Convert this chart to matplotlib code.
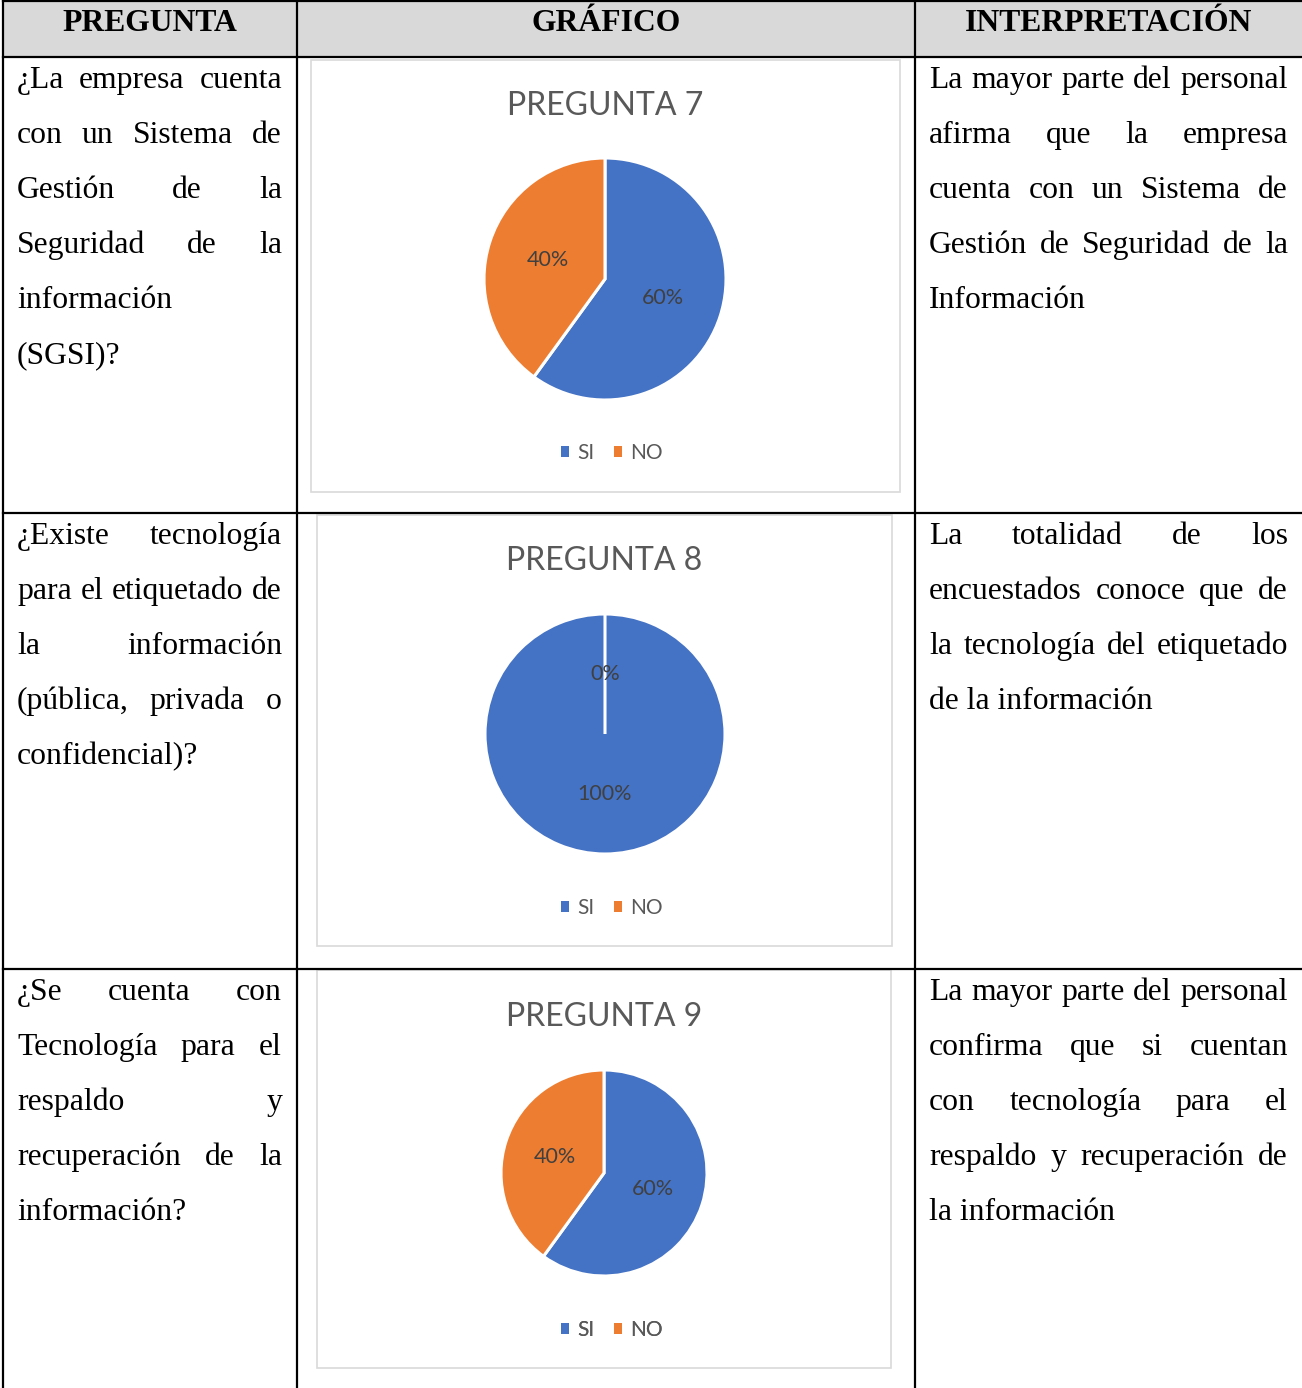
import matplotlib
matplotlib.use("Agg")
import matplotlib.pyplot as plt
from matplotlib.patches import Rectangle, Patch

# ── Data ──────────────────────────────────────────────────────────────────────

HEADERS = ["PREGUNTA", "GRÁFICO", "INTERPRETACIÓN"]
CATEGORIES = ["SI", "NO"]
CHART_TITLES = ["PREGUNTA 7", "PREGUNTA 8", "PREGUNTA 9"]
P7_VALUES = [60, 40]
P8_VALUES = [100, 0]
P9_VALUES = [60, 40]

QUESTION_LINES = [
    ["¿La empresa cuenta", "con un Sistema de", "Gestión de la",
     "Seguridad de la", "información", "(SGSI)?"],
    ["¿Existe tecnología", "para el etiquetado de", "la información",
     "(pública, privada o", "confidencial)?"],
    ["¿Se cuenta con", "Tecnología para el", "respaldo y",
     "recuperación de la", "información?"],
]

INTERP_LINES = [
    ["La mayor parte del personal", "afirma que la empresa",
     "cuenta con un Sistema de", "Gestión de Seguridad de la", "Información"],
    ["La totalidad de los", "encuestados conoce que de",
     "la tecnología del etiquetado", "de la información"],
    ["La mayor parte del personal", "confirma que si cuentan",
     "con tecnología para el", "respaldo y recuperación de", "la información"],
]

COLORS = ["#4472C4", "#ED7D31"]

# ── Layout (pixels) ───────────────────────────────────────────────────────────

W, H, DPI = 1302, 1388, 100
COL_X = [3, 297, 915, 1302]
ROW_Y = [57, 513, 969]
LINE_STEP = 55
BASE_OFF = 31

CHART_BOX = [(311, 60, 900, 492), (317, 515, 892, 946), (317, 970, 891, 1368)]
PIE_GEOM = [(605, 279, 121), (605, 734, 120), (604, 1173, 103)]
TITLE_Y = [103, 558, 1014]
LEGEND_Y = [453, 908, 1330]

SERIF = dict(family="Liberation Serif", fontsize=22.8, color="black")
SANS = "Lato"

fig = plt.figure(figsize=(W / DPI, H / DPI), dpi=DPI)
ax = fig.add_axes([0, 0, 1, 1])
ax.set_xlim(0, W)
ax.set_ylim(H, 0)
ax.axis("off")
renderer = fig.canvas.get_renderer()

# ── Table grid ────────────────────────────────────────────────────────────────

ax.add_patch(Rectangle((COL_X[0], 0), W - COL_X[0], ROW_Y[0],
                       facecolor="#d9d9d9", edgecolor="none"))
lw = 1.6
ax.plot([COL_X[0], W], [1, 1], color="black", lw=lw)
for y in ROW_Y:
    ax.plot([COL_X[0], W], [y, y], color="black", lw=lw)
for x in COL_X[:3]:
    ax.plot([x, x], [0, H], color="black", lw=lw)

for i, head in enumerate(HEADERS):
    ax.text((COL_X[i] + COL_X[i + 1]) / 2, 31, head, ha="center",
            va="baseline", fontweight="bold", **SERIF)


def draw_justified(lines, x0, x1, y0):
    for i, line in enumerate(lines):
        y = y0 + i * LINE_STEP
        words = line.split()
        if i == len(lines) - 1 or len(words) == 1:
            ax.text(x0, y, line, ha="left", va="baseline", **SERIF)
            continue
        items = []
        for w in words:
            t = ax.text(0, y, w, ha="left", va="baseline", **SERIF)
            items.append((t, t.get_window_extent(renderer).width))
        gap = (x1 - x0 - sum(wd for _, wd in items)) / (len(words) - 1)
        x = x0
        for t, wd in items:
            t.set_x(x)
            x += wd + gap


for r in range(3):
    draw_justified(QUESTION_LINES[r], 17, 282, ROW_Y[r] + BASE_OFF)
    draw_justified(INTERP_LINES[r], 929, 1288, ROW_Y[r] + BASE_OFF)

# ── Pie charts ────────────────────────────────────────────────────────────────

handles = [Patch(facecolor=c, edgecolor="none") for c in COLORS]

for k, values in enumerate([P7_VALUES, P8_VALUES, P9_VALUES]):
    bx0, by0, bx1, by1 = CHART_BOX[k]
    ax.add_patch(Rectangle((bx0, by0), bx1 - bx0, by1 - by0,
                           facecolor="white", edgecolor="#d9d9d9", lw=1.2))
    ax.text((bx0 + bx1) / 2, TITLE_Y[k], CHART_TITLES[k], ha="center",
            va="center_baseline", family=SANS, fontsize=23, color="#595959")

    cx, cy, r = PIE_GEOM[k]
    pax = fig.add_axes([(cx - r) / W, 1 - (cy + r) / H, 2 * r / W, 2 * r / H])
    pax.pie(values, colors=COLORS, startangle=90, counterclock=False,
            autopct="%1.0f%%", pctdistance=0.5,
            wedgeprops=dict(edgecolor="white", linewidth=2.2),
            textprops=dict(family=SANS, fontsize=15.5, color="#404040"))
    pax.set_xlim(-1, 1)
    pax.set_ylim(-1, 1)
    pax.axis("off")

    leg = ax.legend(handles, CATEGORIES, loc="center", ncol=2, frameon=False,
                    bbox_to_anchor=(612, LEGEND_Y[k]), bbox_transform=ax.transData,
                    handlelength=0.4, handleheight=0.4, handletextpad=0.4,
                    columnspacing=0.9, borderpad=0,
                    prop=dict(family=SANS, size=15), labelcolor="#595959")
    ax.add_artist(leg)

fig.savefig("out.png", dpi=DPI)
